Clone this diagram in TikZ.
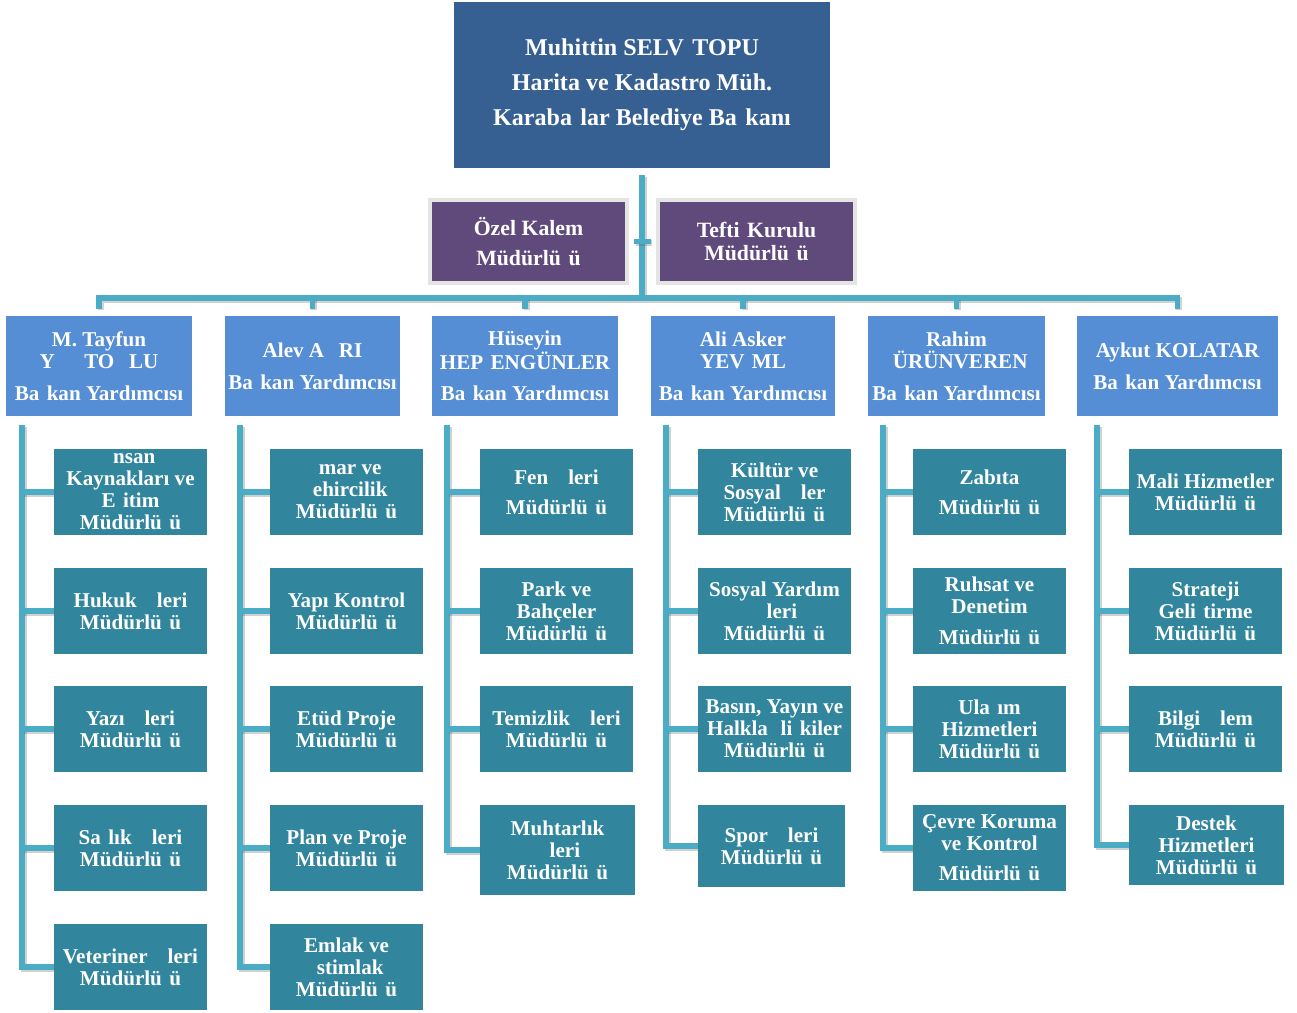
\documentclass[tikz,border=0pt]{standalone}
\usepackage{fontspec}
\setmainfont{Liberation Serif}

\definecolor{baskanrenk}{HTML}{376092}
\definecolor{morrenk}{HTML}{604A7B}
\definecolor{morcerceve}{HTML}{E4E4E4}
\definecolor{yardimcirenk}{HTML}{558ED5}
\definecolor{mudurlukrenk}{HTML}{31859C}
\definecolor{hatrenk}{HTML}{4BACC6}

% harfin dustugu yer
\newcommand{\yok}{\hspace*{0.35em}}

\begin{document}
\begin{tikzpicture}[x=0.02cm, y=-0.02cm,
    kutu/.style={align=center, inner sep=0pt, text=white},
    baskan/.style={kutu, fill=baskanrenk, font=\fontsize{13.7}{20}\selectfont\bfseries,
        minimum width=7.52cm, minimum height=3.32cm},
    ozel/.style={kutu, fill=morrenk, draw=morcerceve, line width=2.5pt,
        font=\fontsize{12.4}{12.8}\selectfont\bfseries, minimum width=3.94cm, minimum height=1.66cm},
    yardimci/.style={kutu, fill=yardimcirenk, font=\fontsize{12}{12.5}\selectfont\bfseries,
        minimum height=2cm},
    mudurluk/.style={kutu, fill=mudurlukrenk, font=\fontsize{12}{12.5}\selectfont\bfseries,
        minimum width=3.06cm, minimum height=1.72cm},
    hat/.style={draw=hatrenk, line width=3pt,
        preaction={draw=black!60, opacity=0.3, line width=3.4pt,
            transform canvas={shift={(1pt,-1pt)}}}}]

        \useasboundingbox (0,0) rectangle (1297,1012);

        \node[baskan] (baskan) at (642,85) {Muhittin SELV\yok TOPU\\Harita ve Kadastro Müh.\\Karaba\yok lar Belediye Ba\yok kanı};

        \node[ozel] (ozel) at (528.5,241.5) {Özel Kalem\\[4.5pt]Müdürlü\yok ü};
        \node[ozel] (teftis) at (756.5,241.5) {Tefti\yok Kurulu\\Müdürlü\yok ü};

        \node[yardimci, minimum width=3.72cm] (y1) at (99,366) {M. Tayfun\\Y\yok\yok\yok\yok TO\yok\yok LU\\[5.5pt]Ba\yok kan Yardımcısı};
        \node[yardimci, minimum width=3.5cm] (y2) at (312.5,366) {Alev A\yok\yok RI\\[5.5pt]Ba\yok kan Yardımcısı};
        \node[yardimci, minimum width=3.72cm] (y3) at (525,366) {Hüseyin\\HEP\yok ENGÜNLER\\[5.5pt]Ba\yok kan Yardımcısı};
        \node[yardimci, minimum width=3.68cm] (y4) at (743,366) {Ali Asker\\YEV\yok ML\\[5.5pt]Ba\yok kan Yardımcısı};
        \node[yardimci, minimum width=3.54cm] (y5) at (956.5,366) {Rahim\\\yok ÜRÜNVEREN\\[5.5pt]Ba\yok kan Yardımcısı};
        \node[yardimci, minimum width=4.02cm] (y6) at (1177.5,366) {Aykut KOLATAR\\[5.5pt]Ba\yok kan Yardımcısı};

        \node[mudurluk] (m11) at (130.5,492) {\yok nsan\\Kaynakları ve\\E\yok itim\\Müdürlü\yok ü};
        \node[mudurluk] (m12) at (130.5,611) {Hukuk \yok\yok leri\\Müdürlü\yok ü};
        \node[mudurluk] (m13) at (130.5,729) {Yazı \yok\yok leri\\Müdürlü\yok ü};
        \node[mudurluk] (m14) at (130.5,848) {Sa\yok lık \yok\yok leri\\Müdürlü\yok ü};
        \node[mudurluk] (m15) at (130.5,967) {Veteriner \yok\yok leri\\Müdürlü\yok ü};

        \node[mudurluk] (m21) at (346.5,492) {\yok mar ve\\\yok ehircilik\\Müdürlü\yok ü};
        \node[mudurluk] (m22) at (346.5,611) {Yapı Kontrol\\Müdürlü\yok ü};
        \node[mudurluk] (m23) at (346.5,729) {Etüd Proje\\Müdürlü\yok ü};
        \node[mudurluk] (m24) at (346.5,848) {Plan ve Proje\\Müdürlü\yok ü};
        \node[mudurluk] (m25) at (346.5,967) {Emlak ve\\\yok stimlak\\Müdürlü\yok ü};

        \node[mudurluk] (m31) at (556.5,492) {Fen \yok\yok leri\\[4.5pt]Müdürlü\yok ü};
        \node[mudurluk] (m32) at (556.5,611) {Park ve\\Bahçeler\\Müdürlü\yok ü};
        \node[mudurluk] (m33) at (556.5,729) {Temizlik \yok\yok leri\\Müdürlü\yok ü};
        \node[mudurluk, minimum width=3.1cm, minimum height=1.8cm] (m34) at (557.5,850) {Muhtarlık\\\yok\yok leri\\Müdürlü\yok ü};

        \node[mudurluk] (m41) at (774.5,492) {Kültür ve\\Sosyal \yok\yok ler\\Müdürlü\yok ü};
        \node[mudurluk] (m42) at (774.5,611) {Sosyal Yardım\\\yok\yok leri\\Müdürlü\yok ü};
        \node[mudurluk] (m43) at (774.5,729) {Basın, Yayın ve\\Halkla \yok li\yok kiler\\Müdürlü\yok ü};
        \node[mudurluk, minimum width=2.94cm, minimum height=1.64cm] (m44) at (771.5,846) {Spor \yok\yok leri\\Müdürlü\yok ü};

        \node[mudurluk] (m51) at (989.5,492) {Zabıta\\[4.5pt]Müdürlü\yok ü};
        \node[mudurluk] (m52) at (989.5,611) {Ruhsat ve\\Denetim\\[5pt]Müdürlü\yok ü};
        \node[mudurluk] (m53) at (989.5,729) {Ula\yok ım\\Hizmetleri\\Müdürlü\yok ü};
        \node[mudurluk] (m54) at (989.5,848) {Çevre Koruma\\ve Kontrol\\[4.5pt]Müdürlü\yok ü};

        \node[mudurluk] (m61) at (1205.5,492) {Mali Hizmetler\\Müdürlü\yok ü};
        \node[mudurluk] (m62) at (1205.5,611) {Strateji\\Geli\yok tirme\\Müdürlü\yok ü};
        \node[mudurluk] (m63) at (1205.5,729) {Bilgi \yok\yok lem\\Müdürlü\yok ü};
        \node[mudurluk, minimum width=3.1cm, minimum height=1.6cm] (m64) at (1206.5,845) {Destek\\Hizmetleri\\Müdürlü\yok ü};

        \coordinate (bus) at (642,298);
        \coordinate (v1) at (22,425);
        \coordinate (v2) at (240,425);
        \coordinate (v3) at (447,425);
        \coordinate (v4) at (666,425);
        \coordinate (v5) at (883,425);
        \coordinate (v6) at (1097,425);

        \draw[hat, shorten <=4pt] (baskan.south) -- (bus);
        \draw[hat, shorten <=3pt, shorten >=3pt] (ozel.east) -- (teftis.west);
        \draw[hat, shorten <=4pt, shorten >=4pt] (y1.north) -- (y1.north |- bus) -- (y6.north |- bus) -- (y6.north);
        \draw[hat, shorten >=4pt] (y2.north |- bus) -- (y2.north);
        \draw[hat, shorten >=4pt] (y3.north |- bus) -- (y3.north);
        \draw[hat, shorten >=4pt] (y4.north |- bus) -- (y4.north);
        \draw[hat, shorten >=4pt] (y5.north |- bus) -- (y5.north);

        \draw[hat] (v1) |- (m15.west);
        \draw[hat] (v1 |- m11.west) -- (m11.west);
        \draw[hat] (v1 |- m12.west) -- (m12.west);
        \draw[hat] (v1 |- m13.west) -- (m13.west);
        \draw[hat] (v1 |- m14.west) -- (m14.west);

        \draw[hat] (v2) |- (m25.west);
        \draw[hat] (v2 |- m21.west) -- (m21.west);
        \draw[hat] (v2 |- m22.west) -- (m22.west);
        \draw[hat] (v2 |- m23.west) -- (m23.west);
        \draw[hat] (v2 |- m24.west) -- (m24.west);

        \draw[hat] (v3) |- (m34.west);
        \draw[hat] (v3 |- m31.west) -- (m31.west);
        \draw[hat] (v3 |- m32.west) -- (m32.west);
        \draw[hat] (v3 |- m33.west) -- (m33.west);

        \draw[hat] (v4) |- (m44.west);
        \draw[hat] (v4 |- m41.west) -- (m41.west);
        \draw[hat] (v4 |- m42.west) -- (m42.west);
        \draw[hat] (v4 |- m43.west) -- (m43.west);

        \draw[hat] (v5) |- (m54.west);
        \draw[hat] (v5 |- m51.west) -- (m51.west);
        \draw[hat] (v5 |- m52.west) -- (m52.west);
        \draw[hat] (v5 |- m53.west) -- (m53.west);

        \draw[hat] (v6) |- (m64.west);
        \draw[hat] (v6 |- m61.west) -- (m61.west);
        \draw[hat] (v6 |- m62.west) -- (m62.west);
        \draw[hat] (v6 |- m63.west) -- (m63.west);
\end{tikzpicture}
\end{document}
